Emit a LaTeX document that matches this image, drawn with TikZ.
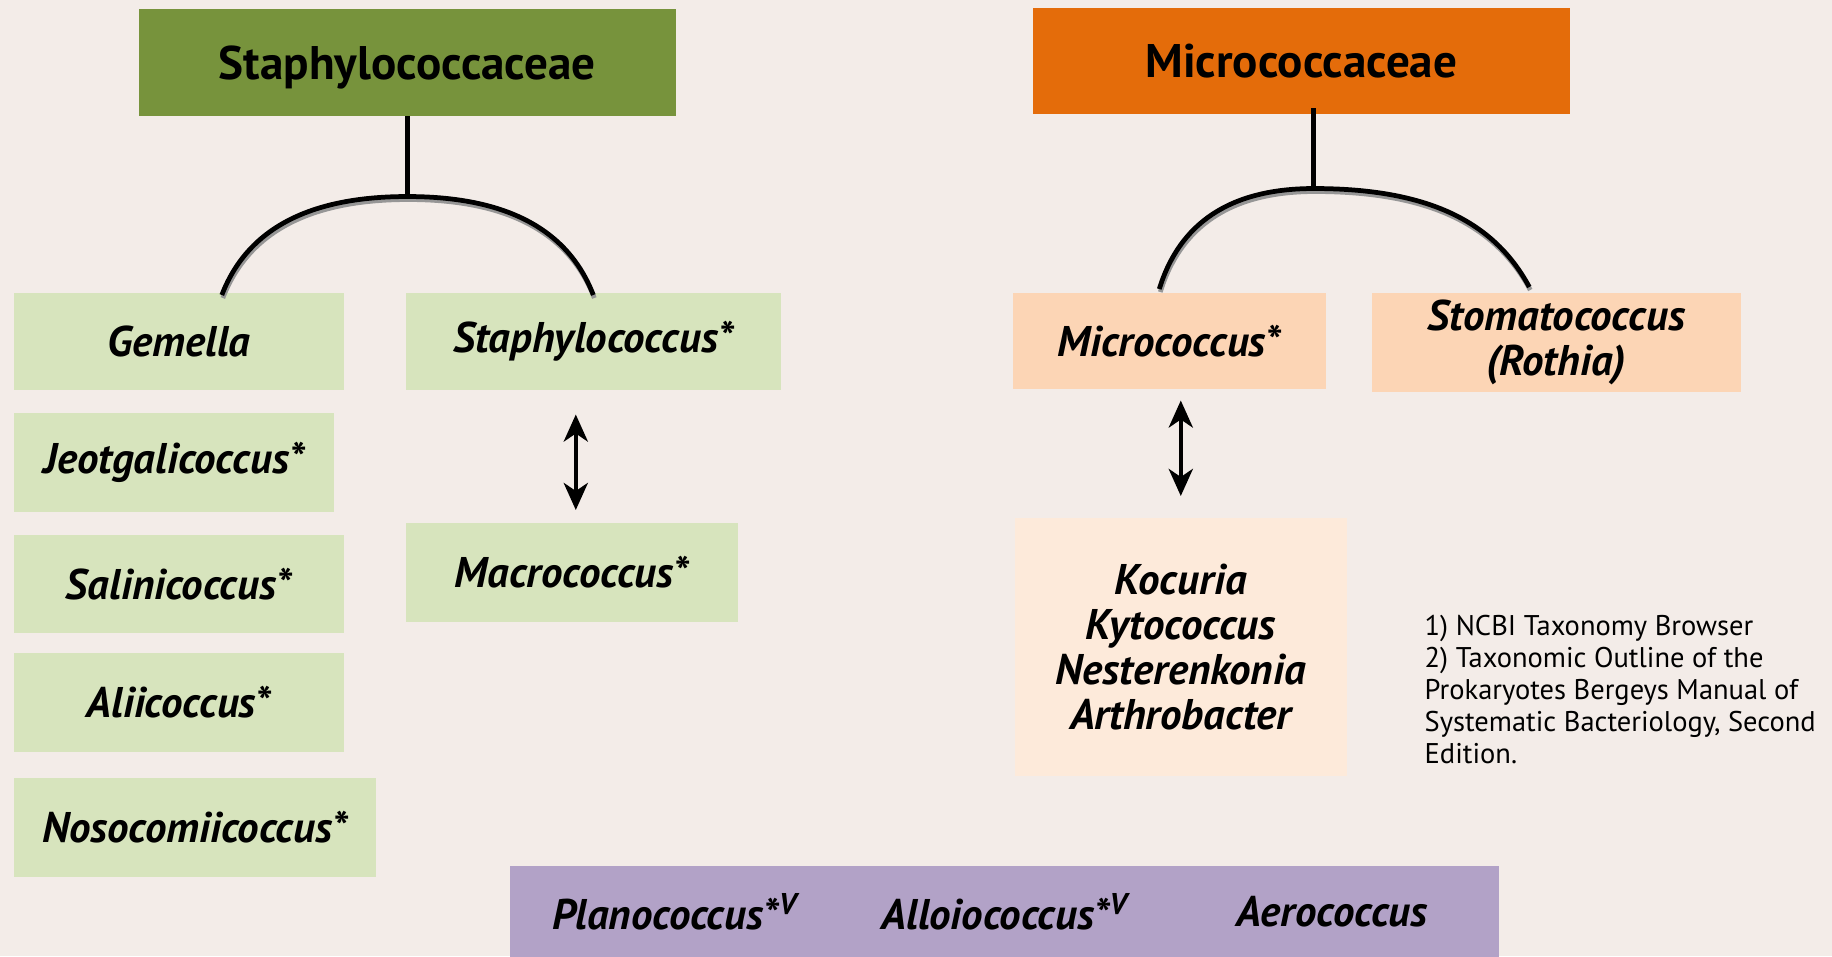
\documentclass[tikz,border=0pt]{standalone}
\usepackage{fontspec}
\setmainfont{PT Sans}
\usetikzlibrary{arrows.meta}
\definecolor{col_F2ECE8}{RGB}{243,236,232}
\definecolor{col_77933C}{RGB}{119,147,60}
\definecolor{col_E46C0A}{RGB}{228,108,10}
\definecolor{col_D7E4BD}{RGB}{215,228,189}
\definecolor{col_FCD5B5}{RGB}{252,213,181}
\definecolor{col_FDEADA}{RGB}{253,234,218}
\definecolor{col_B2A2C7}{RGB}{178,162,199}
\definecolor{col_000000}{RGB}{0,0,0}
\definecolor{col_8C8C8C}{RGB}{150,150,150}
\newcommand{\tikzdrawbox}[7]{%
\node[genusbox, fill=#1, minimum width=#4cm, minimum height=#5cm] (#6) at (#2,#3) {#7};
}
\tikzset{
  familybox/.style={rectangle, inner sep=0pt, anchor=north west, text depth=0pt, font=\fontsize{13.4}{15}\selectfont\bfseries},
  genusbox/.style={rectangle, inner sep=0pt, anchor=north west, align=center, font=\fontsize{12.2}{12.8}\selectfont\bfseries\itshape},
  genustext/.style={inner sep=0pt, font=\fontsize{12.2}{12.8}\selectfont\bfseries\itshape},
  branch/.style={col_000000, line width=1.35pt},
  shadow/.style={col_8C8C8C, line width=1.35pt, transform canvas={shift={(0.01cm,-0.03cm)}}},
  dblarrow/.style={col_000000, line width=1.3pt, {Stealth[length=0.27cm,width=0.24cm,inset=0.08cm]}-{Stealth[length=0.27cm,width=0.24cm,inset=0.08cm]}}
}
\begin{document}
\begin{tikzpicture}[x=0.01cm,y=-0.01cm]
\fill[col_F2ECE8] (0,0) rectangle (1832,956);     %% background
\useasboundingbox (0,0) rectangle (1832,956);
\node[familybox, fill=col_77933C, minimum width=5.37cm, minimum height=1.07cm] (staph) at (138,8) {Staphylococcaceae};
\node[familybox, fill=col_E46C0A, minimum width=5.37cm, minimum height=1.06cm] (micro) at (1032,7) {Micrococcaceae};
\tikzdrawbox{col_D7E4BD}{13}{292}{3.30}{0.97}{gemella}{Gemella}
\tikzdrawbox{col_D7E4BD}{405}{292}{3.75}{0.97}{staphylo}{Staphylococcus*}
\tikzdrawbox{col_D7E4BD}{13}{412}{3.20}{0.99}{jeotgali}{Jeotgalicoccus*}
\tikzdrawbox{col_D7E4BD}{13}{534}{3.30}{0.98}{salini}{Salinicoccus*}
\tikzdrawbox{col_D7E4BD}{13}{652}{3.30}{0.99}{aliic}{Aliicoccus*}
\tikzdrawbox{col_D7E4BD}{13}{777}{3.62}{0.99}{nosoc}{Nosocomiicoccus*}
\tikzdrawbox{col_D7E4BD}{405}{522}{3.32}{0.99}{macro}{Macrococcus*}
\tikzdrawbox{col_FCD5B5}{1012}{292}{3.13}{0.96}{microc}{Micrococcus*}
\tikzdrawbox{col_FCD5B5}{1371}{292}{3.69}{0.99}{stomato}{Stomatococcus\\(Rothia)}
\tikzdrawbox{col_FDEADA}{1014}{517}{3.32}{2.58}{kocuria}{Kocuria\\Kytococcus\\Nesterenkonia\\Arthrobacter}
\tikzdrawbox{col_B2A2C7}{509}{865}{9.89}{0.95}{others}{}
\node[genustext] (plano) at (675,912) {Planococcus*\textsuperscript{V}};
\node[genustext] (alloio) at (1005,912) {Alloiococcus*\textsuperscript{V}};
\node[genustext] (aero) at (1332,912) {Aerococcus};
\node[inner sep=0pt, anchor=north west, align=left, font=\fontsize{8.1}{9.1}\selectfont] (refs) at (1424,614) {1) NCBI Taxonomy Browser\\2) Taxonomic Outline of the\\Prokaryotes Bergeys Manual of\\Systematic Bacteriology, Second\\Edition.};
%% Staphylococcaceae branches
\coordinate (staphtop) at ([yshift=-0.80cm]staph.south);
\draw[shadow] ([xshift=0.43cm,yshift=-0.03cm]gemella.north) .. controls +(25,-65) and +(-100,0) .. (staphtop) .. controls +(100,0) and +(-25,-65) .. ([yshift=-0.03cm]staphylo.north);
\draw[branch] (staph.south) -- (staphtop);
\draw[branch] ([xshift=0.43cm,yshift=-0.03cm]gemella.north) .. controls +(25,-65) and +(-100,0) .. (staphtop) .. controls +(100,0) and +(-25,-65) .. ([yshift=-0.03cm]staphylo.north);
%% Micrococcaceae branches
\coordinate (microtop) at ([xshift=0.125cm,yshift=-0.74cm]micro.south);
\draw[shadow] ([xshift=-0.10cm,yshift=0.03cm]microc.north) .. controls +(20,-65) and +(-85,0) .. (microtop) .. controls +(115,0) and +(-35,-65) .. ([xshift=-0.27cm,yshift=0.05cm]stomato.north);
\draw[branch] ([xshift=0.125cm,yshift=0.06cm]micro.south) -- (microtop);
\draw[branch] ([xshift=-0.10cm,yshift=0.03cm]microc.north) .. controls +(20,-65) and +(-85,0) .. (microtop) .. controls +(115,0) and +(-35,-65) .. ([xshift=-0.27cm,yshift=0.05cm]stomato.north);
%% double arrows
\draw[dblarrow] ([xshift=0.04cm,yshift=-0.24cm]macro.north |- staphylo.south) -- ([xshift=0.04cm,yshift=0.12cm]macro.north);
\draw[dblarrow] ([yshift=-0.11cm]kocuria.north |- microc.south) -- ([yshift=0.21cm]kocuria.north);
\end{tikzpicture}
\end{document}
